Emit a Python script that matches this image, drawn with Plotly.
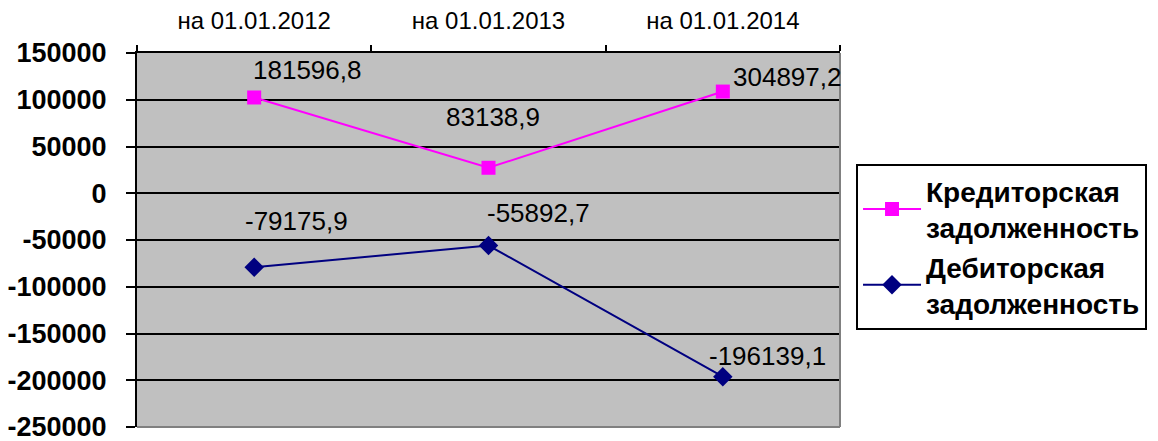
import plotly.graph_objects as go

categories = ["на 01.01.2012", "на 01.01.2013", "на 01.01.2014"]
kred = [181596.8, 83138.9, 304897.2]   # Кредиторская задолженность
deb = [-79175.9, -55892.7, -196139.1]  # Дебиторская задолженность
series_names = ["Кредиторская<br>задолженность", "Дебиторская<br>задолженность"]
y_tickvals = [150000, 100000, 50000, 0, -50000, -100000, -150000, -200000, -250000]
y_ticktext = ["150000", "100000", "50000", "0", "-50000", "-100000", "-150000", "-200000", "-250000"]

# Stacked line chart: the creditor line is drawn on top of the debtor line
kred_stacked = [k + d for k, d in zip(kred, deb)]

FONT = "Liberation Sans, Arial, sans-serif"

def fmt(v):
    return f"{v:.1f}".replace(".", ",")

fig = go.Figure()
fig.add_trace(go.Scatter(
    x=categories, y=kred_stacked, name=series_names[0], mode="lines+markers",
    line=dict(color="#FF00FF", width=2),
    marker=dict(symbol="square", size=14, color="#FF00FF"),
))
fig.add_trace(go.Scatter(
    x=categories, y=deb, name=series_names[1], mode="lines+markers",
    line=dict(color="#000080", width=2),
    marker=dict(symbol="diamond", size=15, color="#000080"),
))

# data labels (offsets in pixels from the points)
kred_shift = [(53, 27), (4, 51), (64, 15)]
deb_shift = [(42, 46), (50, 33), (45, 21)]
for i, c in enumerate(categories):
    fig.add_annotation(x=c, y=kred_stacked[i], text=fmt(kred[i]), showarrow=False,
                       xshift=kred_shift[i][0], yshift=kred_shift[i][1],
                       font=dict(family=FONT, size=26, color="black"))
    fig.add_annotation(x=c, y=deb[i], text=fmt(deb[i]), showarrow=False,
                       xshift=deb_shift[i][0], yshift=deb_shift[i][1],
                       font=dict(family=FONT, size=26, color="black"))

# right and bottom border of plot area (gray)
fig.add_shape(type="line", xref="paper", yref="paper", x0=1, x1=1, y0=0, y1=1,
              line=dict(color="#808080", width=2), layer="above")
fig.add_shape(type="line", xref="paper", yref="paper", x0=0, x1=1, y0=0, y1=0,
              line=dict(color="#808080", width=2), layer="above")

# the page body adds an 8px offset, so the figure is 8px smaller on each axis
fig.update_layout(
    width=1150, height=433,
    margin=dict(l=129, r=318, t=45, b=14, autoexpand=False),
    paper_bgcolor="white", plot_bgcolor="#C0C0C0",
    font=dict(family=FONT, color="black"),
    showlegend=True,
    legend=dict(
        x=1.0228, y=0.703, xanchor="left", yanchor="top",
        bgcolor="white", bordercolor="black", borderwidth=2,
        font=dict(family=FONT, size=28, color="black", weight="bold"),
        tracegroupgap=0, itemwidth=58,
    ),
    xaxis=dict(
        side="top", type="category", tickson="boundaries", automargin=False,
        ticks="outside", ticklen=6, tickcolor="black", tickwidth=2,
        showline=True, linecolor="black", linewidth=2,
        showgrid=False, range=[-0.5, 2.5],
        tickfont=dict(family=FONT, size=24, color="black"),
        ticklabelstandoff=12,
    ),
    yaxis=dict(
        range=[-250000, 150000], tickvals=y_tickvals, ticktext=y_ticktext,
        automargin=False, ticklabeloverflow="allow",
        ticks="outside", ticklen=9, tickcolor="black", tickwidth=2,
        showline=True, linecolor="black", linewidth=2,
        showgrid=True, gridcolor="black", gridwidth=2,
        zeroline=True, zerolinecolor="black", zerolinewidth=2,
        tickfont=dict(family=FONT, size=27, color="black", weight="bold"),
        ticklabelstandoff=14,
    ),
)

fig.write_html("out.html")
